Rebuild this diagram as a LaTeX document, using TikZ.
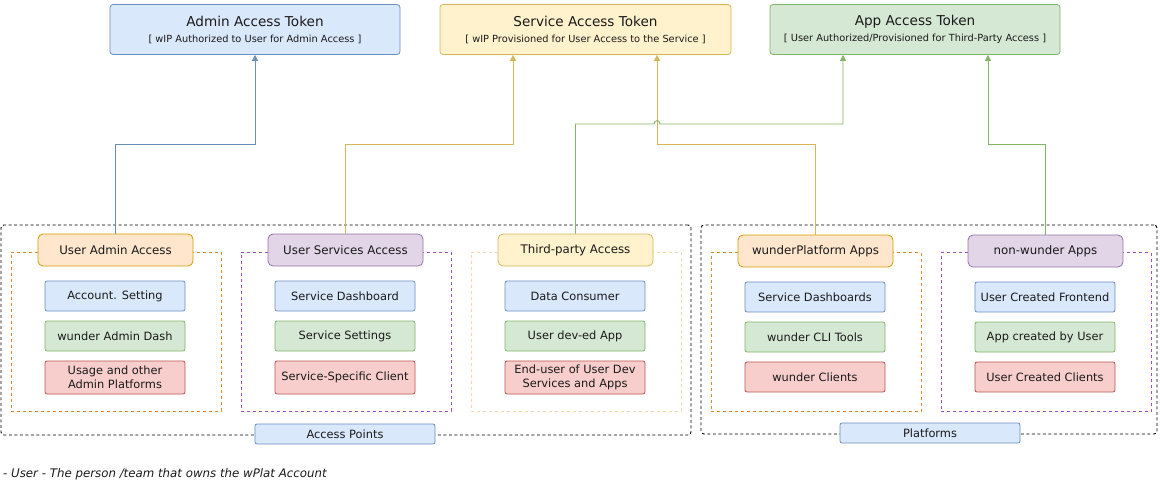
\documentclass[tikz,border=0pt]{standalone}
\usepackage{fontspec}
\setmainfont{DejaVu Sans}
\usetikzlibrary{arrows.meta}
\definecolor{blueF}{HTML}{DAE8FC}\definecolor{blueS}{HTML}{6C8EBF}
\definecolor{yelF}{HTML}{FFF2CC}\definecolor{yelS}{HTML}{D6B656}
\definecolor{grnF}{HTML}{D5E8D4}\definecolor{grnS}{HTML}{82B366}
\definecolor{redF}{HTML}{F8CECC}\definecolor{redS}{HTML}{B85450}
\definecolor{orgF}{HTML}{FFE6CC}\definecolor{orgS}{HTML}{D79B00}
\definecolor{purF}{HTML}{E1D5E7}\definecolor{purS}{HTML}{9673A6}
\definecolor{purD}{HTML}{9A4FD0}\definecolor{orgD}{HTML}{E08A1E}
\definecolor{lightD}{HTML}{F0D9AE}\definecolor{txt}{HTML}{1A1A1A}
\tikzset{
  every node/.style={text=txt},
  token/.style={draw, rounded corners=3pt, line width=0.8pt, minimum width=290pt, minimum height=50pt, align=center, inner sep=0pt},
  item/.style={draw, rounded corners=2pt, line width=0.8pt, minimum width=140pt, minimum height=30pt, align=center, inner sep=0pt, font=\fontsize{11.4}{14}\selectfont},
  header/.style={draw, rounded corners=5pt, line width=0.8pt, minimum width=155pt, minimum height=32pt, align=center, inner sep=0pt, font=\fontsize{11.8}{14}\selectfont},
  group/.style={draw, dash pattern=on 3pt off 3pt, line width=0.8pt, minimum width=210pt, minimum height=159pt, inner sep=0pt},
  outer/.style={draw=black, dash pattern=on 3pt off 2.5pt, line width=0.9pt, rounded corners=3pt, inner sep=0pt},
  lbl/.style={draw=blueS, fill=blueF, rounded corners=2pt, line width=0.8pt, minimum width=180pt, minimum height=20pt, inner sep=0pt, font=\fontsize{11.4}{13}\selectfont},
  conn/.style={line width=0.9pt, -{Triangle[width=6pt,length=6pt]}},
}
\begin{document}
\begin{tikzpicture}[x=1pt,y=-1pt]
\useasboundingbox (0,0) rectangle (1161,485);
% tokens
\node[token, fill=blueF, draw=blueS] (tokA) at (255,29.5) {{\fontsize{13.6}{16}\selectfont Admin Access Token}\\[4pt]{\fontsize{9.8}{11}\selectfont [ wIP Authorized to User for Admin Access ]}};
\node[token, fill=yelF, draw=yelS, minimum width=291pt] (tokS) at (585.5,29.5) {{\fontsize{13.6}{16}\selectfont Service Access Token}\\[4pt]{\fontsize{9.8}{11}\selectfont [ wIP Provisioned for User Access to the Service ]}};
\node[token, fill=grnF, draw=grnS] (tokP) at (915,29.5) {{\fontsize{13.6}{16}\selectfont App Access Token}\\[4pt]{\fontsize{9.8}{11}\selectfont [ User Authorized/Provisioned for Third-Party Access ]}};
% outer boxes
\node[outer, minimum width=690pt, minimum height=210pt] (apbox) at (346,330) {};
\node[outer, minimum width=456pt, minimum height=209pt] (plbox) at (929,329.5) {};
\node[lbl] (aplbl) at (345,434) {Access Points};
\node[lbl] (pllbl) at (930,433) {Platforms};
% group dashed boxes
\node[group, draw=orgD] (g1) at (116,331.5) {};
\node[group, draw=purD] (g2) at (346,331.5) {};
\node[group, draw=lightD] (g3) at (576,331.5) {};
\node[group, draw=orgD] (g4) at (816,332) {};
\node[group, draw=purD] (g5) at (1046,332) {};
% headers
\node[header, fill=orgF, draw=orgS] (uaa) at (115.5,250) {User Admin Access};
\node[header, fill=purF, draw=purS] (usa) at (345.5,250) {User Services Access};
\node[header, fill=yelF, draw=yelS] (tpa) at (575.5,250) {Third-party Access};
\node[header, fill=orgF, draw=orgS] (wpa) at (815.5,251) {wunderPlatform Apps};
\node[header, fill=purF, draw=purS] (nwa) at (1045.5,251) {non-wunder Apps};
% items col 1
\node[item, fill=blueF, draw=blueS] (a1) at (115,296) {Account. Setting};
\node[item, fill=grnF, draw=grnS] (a2) at (115,336) {wunder Admin Dash};
\node[item, fill=redF, draw=redS, minimum height=33pt] (a3) at (115,377.5) {Usage and other\\Admin Platforms};
% col 2
\node[item, fill=blueF, draw=blueS] (b1) at (345,296) {Service Dashboard};
\node[item, fill=grnF, draw=grnS] (b2) at (345,336) {Service Settings};
\node[item, fill=redF, draw=redS, minimum height=33pt] (b3) at (345,377.5) {Service-Specific Client};
% col 3
\node[item, fill=blueF, draw=blueS] (c1) at (575,296) {Data Consumer};
\node[item, fill=grnF, draw=grnS] (c2) at (575,336) {User dev-ed App};
\node[item, fill=redF, draw=redS, minimum height=33pt] (c3) at (575,377.5) {End-user of User Dev\\Services and Apps};
% col 4
\node[item, fill=blueF, draw=blueS] (d1) at (815,297) {Service Dashboards};
\node[item, fill=grnF, draw=grnS] (d2) at (815,337) {wunder CLI Tools};
\node[item, fill=redF, draw=redS] (d3) at (815,377) {wunder Clients};
% col 5
\node[item, fill=blueF, draw=blueS] (e1) at (1045,297) {User Created Frontend};
\node[item, fill=grnF, draw=grnS] (e2) at (1045,337) {App created by User};
\node[item, fill=redF, draw=redS] (e3) at (1045,377) {User Created Clients};
% connectors
\draw[conn, draw=blueS] (uaa.north) |- ([yshift=-90pt]tokA.south) -- (tokA.south);
\draw[conn, draw=yelS] (usa.north) |- ([xshift=-72.5pt,yshift=-90pt]tokS.south) -- ([xshift=-72.5pt]tokS.south);
\draw[conn, draw=yelS] (wpa.north) |- ([xshift=71.5pt,yshift=-90pt]tokS.south) -- ([xshift=71.5pt]tokS.south);
\draw[conn, draw=grnS] (nwa.north) |- ([xshift=73pt,yshift=-90pt]tokP.south) -- ([xshift=73pt]tokP.south);
\coordinate (j1) at (654,124);
\coordinate (j2) at (660,124);
\draw[conn, draw=grnS] (tpa.north) |- (j1) .. controls (654,119.5) and (660,119.5) .. (j2) -| ([xshift=-72pt]tokP.south);
% footnote
\node[anchor=west, font=\fontsize{11.8}{14}\selectfont\itshape, inner sep=0pt] (note) at (3,474) {- User - The person /team that owns the wPlat Account};
\end{tikzpicture}
\end{document}
